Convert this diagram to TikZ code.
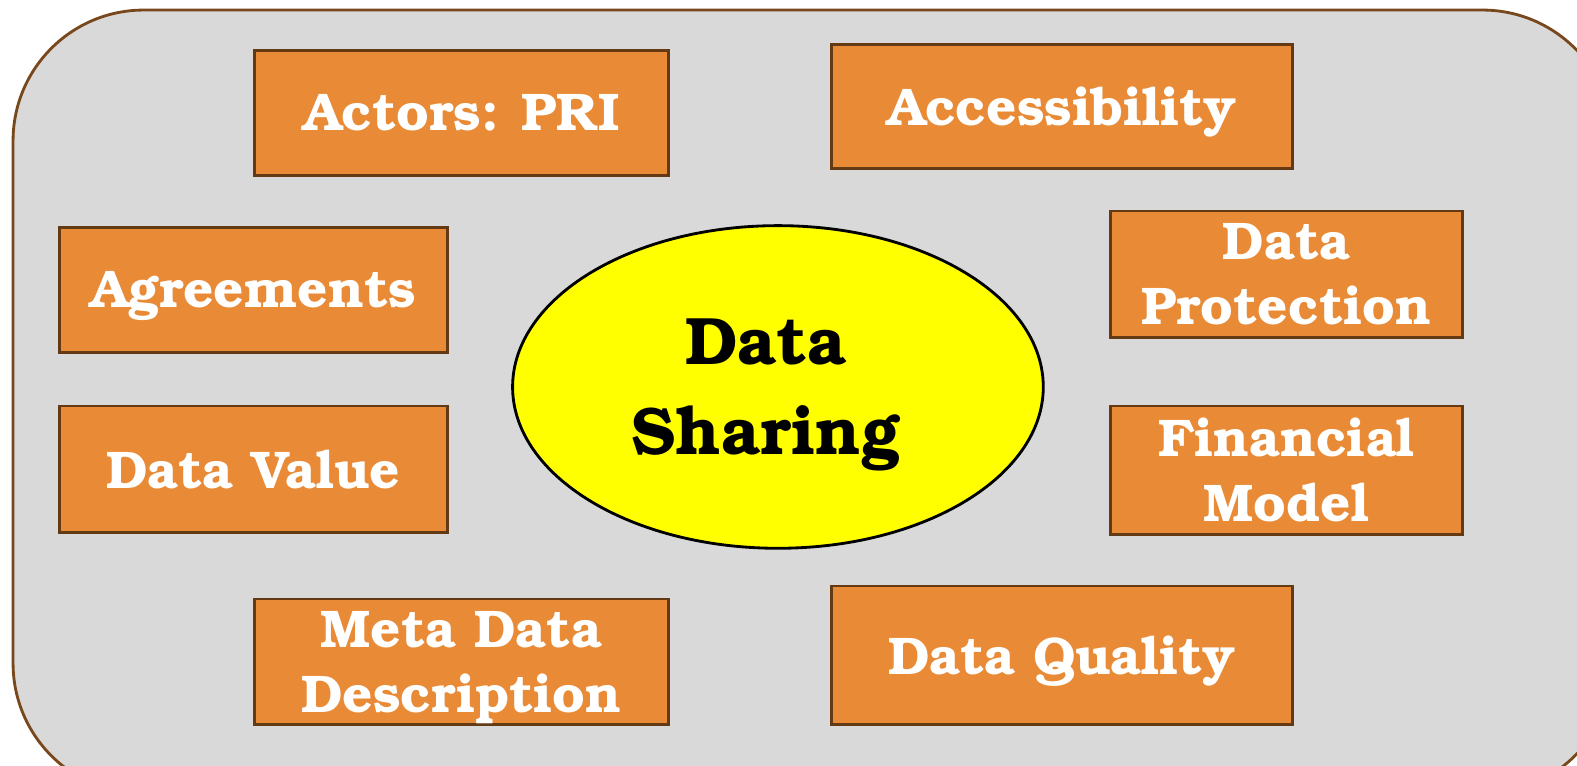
\documentclass[tikz,border=0pt]{standalone}
\usepackage[T1]{fontenc}
\usepackage{tikz}
\usetikzlibrary{shapes.geometric}

\definecolor{panelgray}{RGB}{217,217,217}
\definecolor{panelbrown}{RGB}{120,72,28}
\definecolor{boxorange}{RGB}{233,139,54}
\definecolor{boxbrown}{RGB}{100,58,20}
\definecolor{hubyellow}{RGB}{255,255,0}

\newcommand{\bkfont}{\fontfamily{pbk}\fontseries{b}\selectfont}

\tikzset{
  topic/.style={draw=boxbrown, line width=0.8pt, fill=boxorange, text=white,
    align=center, inner sep=0pt, text depth=0pt,
    font=\bkfont\fontsize{15}{18.5}\selectfont},
  hub/.style={ellipse, draw=black, line width=0.8pt, fill=hubyellow, text=black,
    align=center, inner sep=0pt, text depth=-0.14cm,
    font=\bkfont\fontsize{19}{25.5}\selectfont}
}

\begin{document}
\begin{tikzpicture}
% Fix the page size (1 px = 0.01 cm)
\clip (0, 0) rectangle (15.69, -7.62);
\useasboundingbox (0, 0) rectangle (15.69, -7.62);

% Gray panel behind everything
\draw[panelbrown, line width=0.8pt, fill=panelgray, rounded corners=1.3cm] (0.13, -0.10) rectangle (16.05, -7.90);

% Central ellipse (text sits a little left of centre)
\node[hub, minimum width=5.28cm, minimum height=3.21cm] (sharing) at (7.74, -3.85) {Data\hspace*{0.24cm}\\Sharing\hspace*{0.24cm}};

% Boxes around the ellipse
\node[topic, minimum width=4.12cm, minimum height=1.25cm] (actors) at (4.59, -1.125) {Actors: PRI};
\node[topic, minimum width=4.59cm, minimum height=1.24cm] (access) at (10.565, -1.06) {Accessibility};
\node[topic, minimum width=3.86cm, minimum height=1.25cm] (agree) at (2.52, -2.885) {Agreements};
\node[topic, minimum width=3.50cm, minimum height=1.26cm] (protect) at (12.80, -2.73) {Data\\Protection};
\node[topic, minimum width=3.86cm, minimum height=1.26cm] (value) at (2.52, -4.67) {Data Value};
\node[topic, minimum width=3.50cm, minimum height=1.28cm] (finance) at (12.80, -4.68) {Financial\\Model};
\node[topic, minimum width=4.12cm, minimum height=1.25cm] (meta) at (4.59, -6.585) {Meta Data\\Description};
\node[topic, minimum width=4.59cm, minimum height=1.38cm] (quality) at (10.565, -6.52) {Data Quality};
\end{tikzpicture}
\end{document}
